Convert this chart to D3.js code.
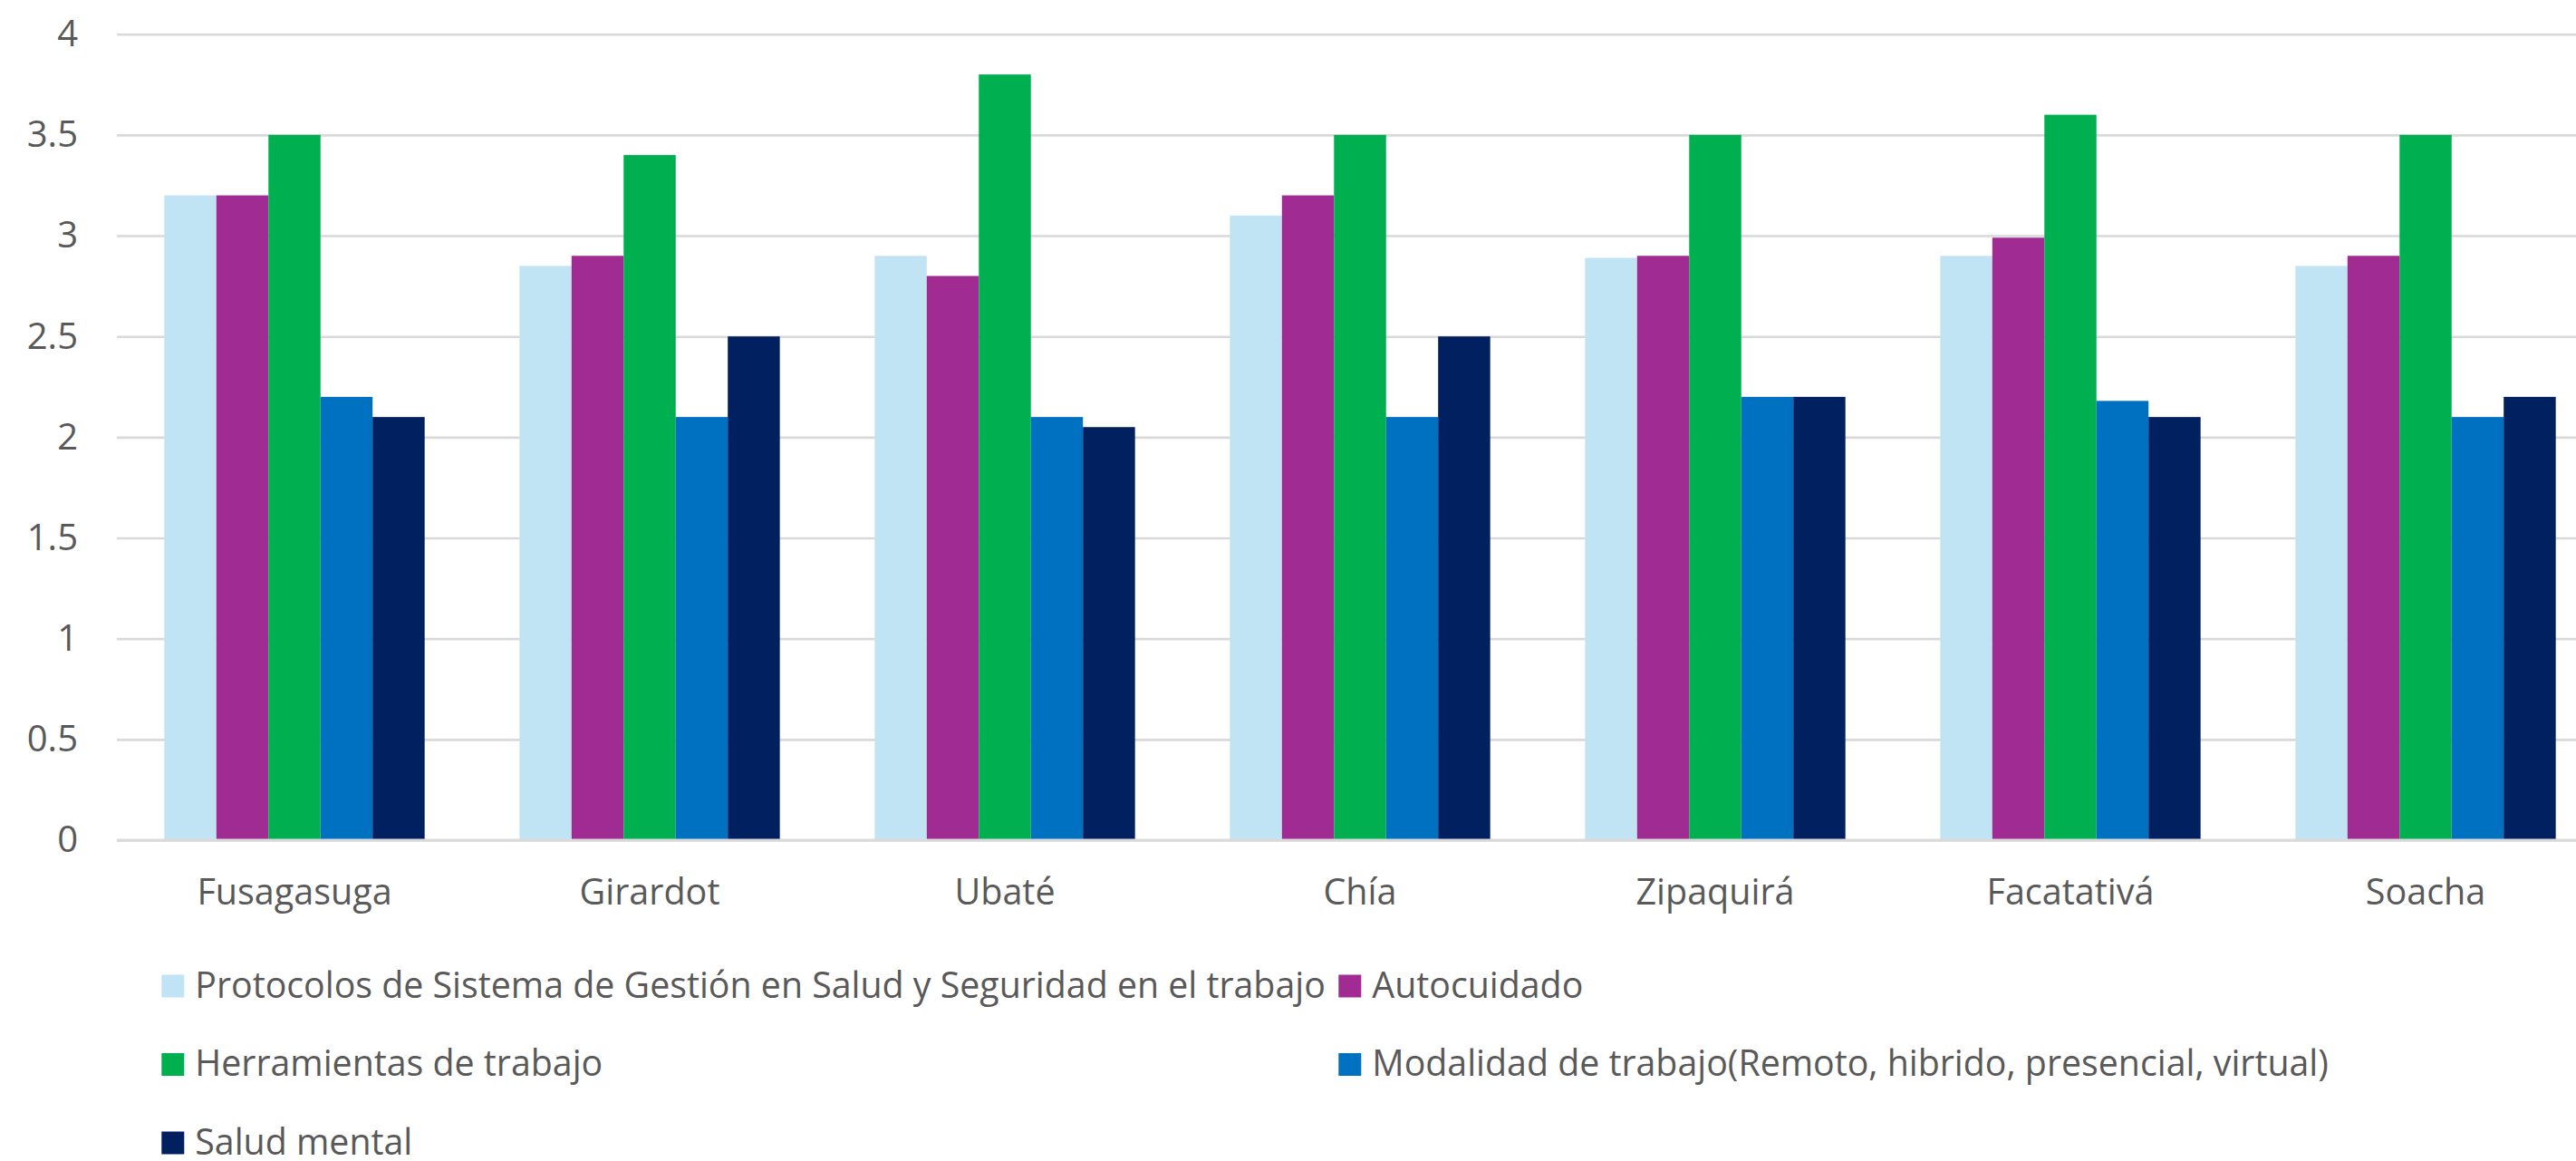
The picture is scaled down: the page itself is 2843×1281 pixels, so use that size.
<!DOCTYPE html>
<html><head><meta charset="utf-8">
<script src="https://cdn.jsdelivr.net/npm/d3@7"></script>
<style>html,body{margin:0;padding:0;background:#fff}svg{display:block}</style>
</head><body>
<svg id="chart" width="2843" height="1281"></svg>
<script>
const categories = ["Fusagasuga","Girardot","Ubaté","Chía","Zipaquirá","Facatativá","Soacha"];
const seriesNames = [
  "Protocolos de Sistema de Gestión en Salud y Seguridad en el trabajo",
  "Autocuidado",
  "Herramientas de trabajo",
  "Modalidad de trabajo(Remoto, hibrido, presencial, virtual)",
  "Salud mental"
];
const protocolos   = [3.2, 2.85, 2.9, 3.1, 2.89, 2.9, 2.85];
const autocuidado  = [3.2, 2.9, 2.8, 3.2, 2.9, 2.99, 2.9];
const herramientas = [3.5, 3.4, 3.8, 3.5, 3.5, 3.6, 3.5];
const modalidad    = [2.2, 2.1, 2.1, 2.1, 2.2, 2.18, 2.1];
const saludMental  = [2.1, 2.5, 2.05, 2.5, 2.2, 2.1, 2.2];
const yTicks = [0, 0.5, 1, 1.5, 2, 2.5, 3, 3.5, 4];
const colors = ["#C1E4F5", "#A02B93", "#00B050", "#0070C0", "#002060"];

const seriesValues = [protocolos, autocuidado, herramientas, modalidad, saludMental];

const W = 2843, H = 1281;
const plot = {left: 129, right: 2873, top: 37.7, bottom: 927};
const FONT = "'Open Sans', Roboto, sans-serif";
const TEXT = "#595959";

const svg = d3.select("#chart");

const x0 = d3.scaleBand().domain(categories).range([plot.left, plot.right])
  .paddingInner(0.267).paddingOuter(0.1335);
const x1 = d3.scaleBand().domain(d3.range(seriesNames.length)).range([0, x0.bandwidth()]);
const y = d3.scaleLinear().domain([0, 4]).range([plot.bottom, plot.top]);

// gridlines
const grid = svg.append("g").attr("transform", `translate(${plot.left},0)`)
  .call(d3.axisLeft(y).tickValues(yTicks).tickSize(-(W - plot.left)).tickFormat(""));
grid.select(".domain").remove();
grid.selectAll("line").attr("stroke", "#D9D9D9").attr("stroke-width", 2.6);

// y-axis labels
const yAxis = svg.append("g").attr("transform", `translate(${plot.left},0)`)
  .call(d3.axisLeft(y).tickValues(yTicks).tickSize(0).tickPadding(43).tickFormat(d => String(d)));
yAxis.select(".domain").remove();
yAxis.selectAll("text").attr("font-family", FONT).attr("font-size", 40).attr("fill", TEXT);

// bars
const groups = svg.append("g").selectAll("g").data(categories).join("g")
  .attr("transform", d => `translate(${x0(d)},0)`);
groups.selectAll("rect")
  .data((c, ci) => seriesValues.map((vals, si) => ({si, v: vals[ci]})))
  .join("rect")
  .attr("x", d => x1(d.si))
  .attr("width", x1.bandwidth())
  .attr("y", d => y(d.v))
  .attr("height", d => y(0) - y(d.v))
  .attr("fill", d => colors[d.si]);

// x axis line (zero)
svg.append("line").attr("x1", plot.left).attr("x2", W)
  .attr("y1", y(0)).attr("y2", y(0)).attr("stroke", "#D9D9D9").attr("stroke-width", 3);

// x labels
const xAxis = svg.append("g").attr("transform", `translate(0,${plot.bottom})`)
  .call(d3.axisBottom(x0).tickSize(0).tickPadding(43));
xAxis.select(".domain").remove();
xAxis.selectAll("text").attr("font-family", FONT).attr("font-size", 39.5).attr("fill", TEXT);

// legend
const legend = {x: [178.3, 1477.3], textOffset: 37, baseline: 1100.5, rowStep: 86.5, sw: 25};
const items = svg.append("g").selectAll("g").data(seriesNames).join("g")
  .attr("transform", (d, i) => `translate(${legend.x[i % 2]},${legend.baseline + Math.floor(i / 2) * legend.rowStep})`);
items.append("rect").attr("x", 0).attr("y", -legend.sw).attr("width", legend.sw).attr("height", legend.sw)
  .attr("fill", (d, i) => colors[i]);
items.append("text").attr("x", legend.textOffset).attr("y", 0)
  .attr("font-family", FONT).attr("font-size", 39.3).attr("fill", TEXT).text(d => d);
</script>
</body></html>
